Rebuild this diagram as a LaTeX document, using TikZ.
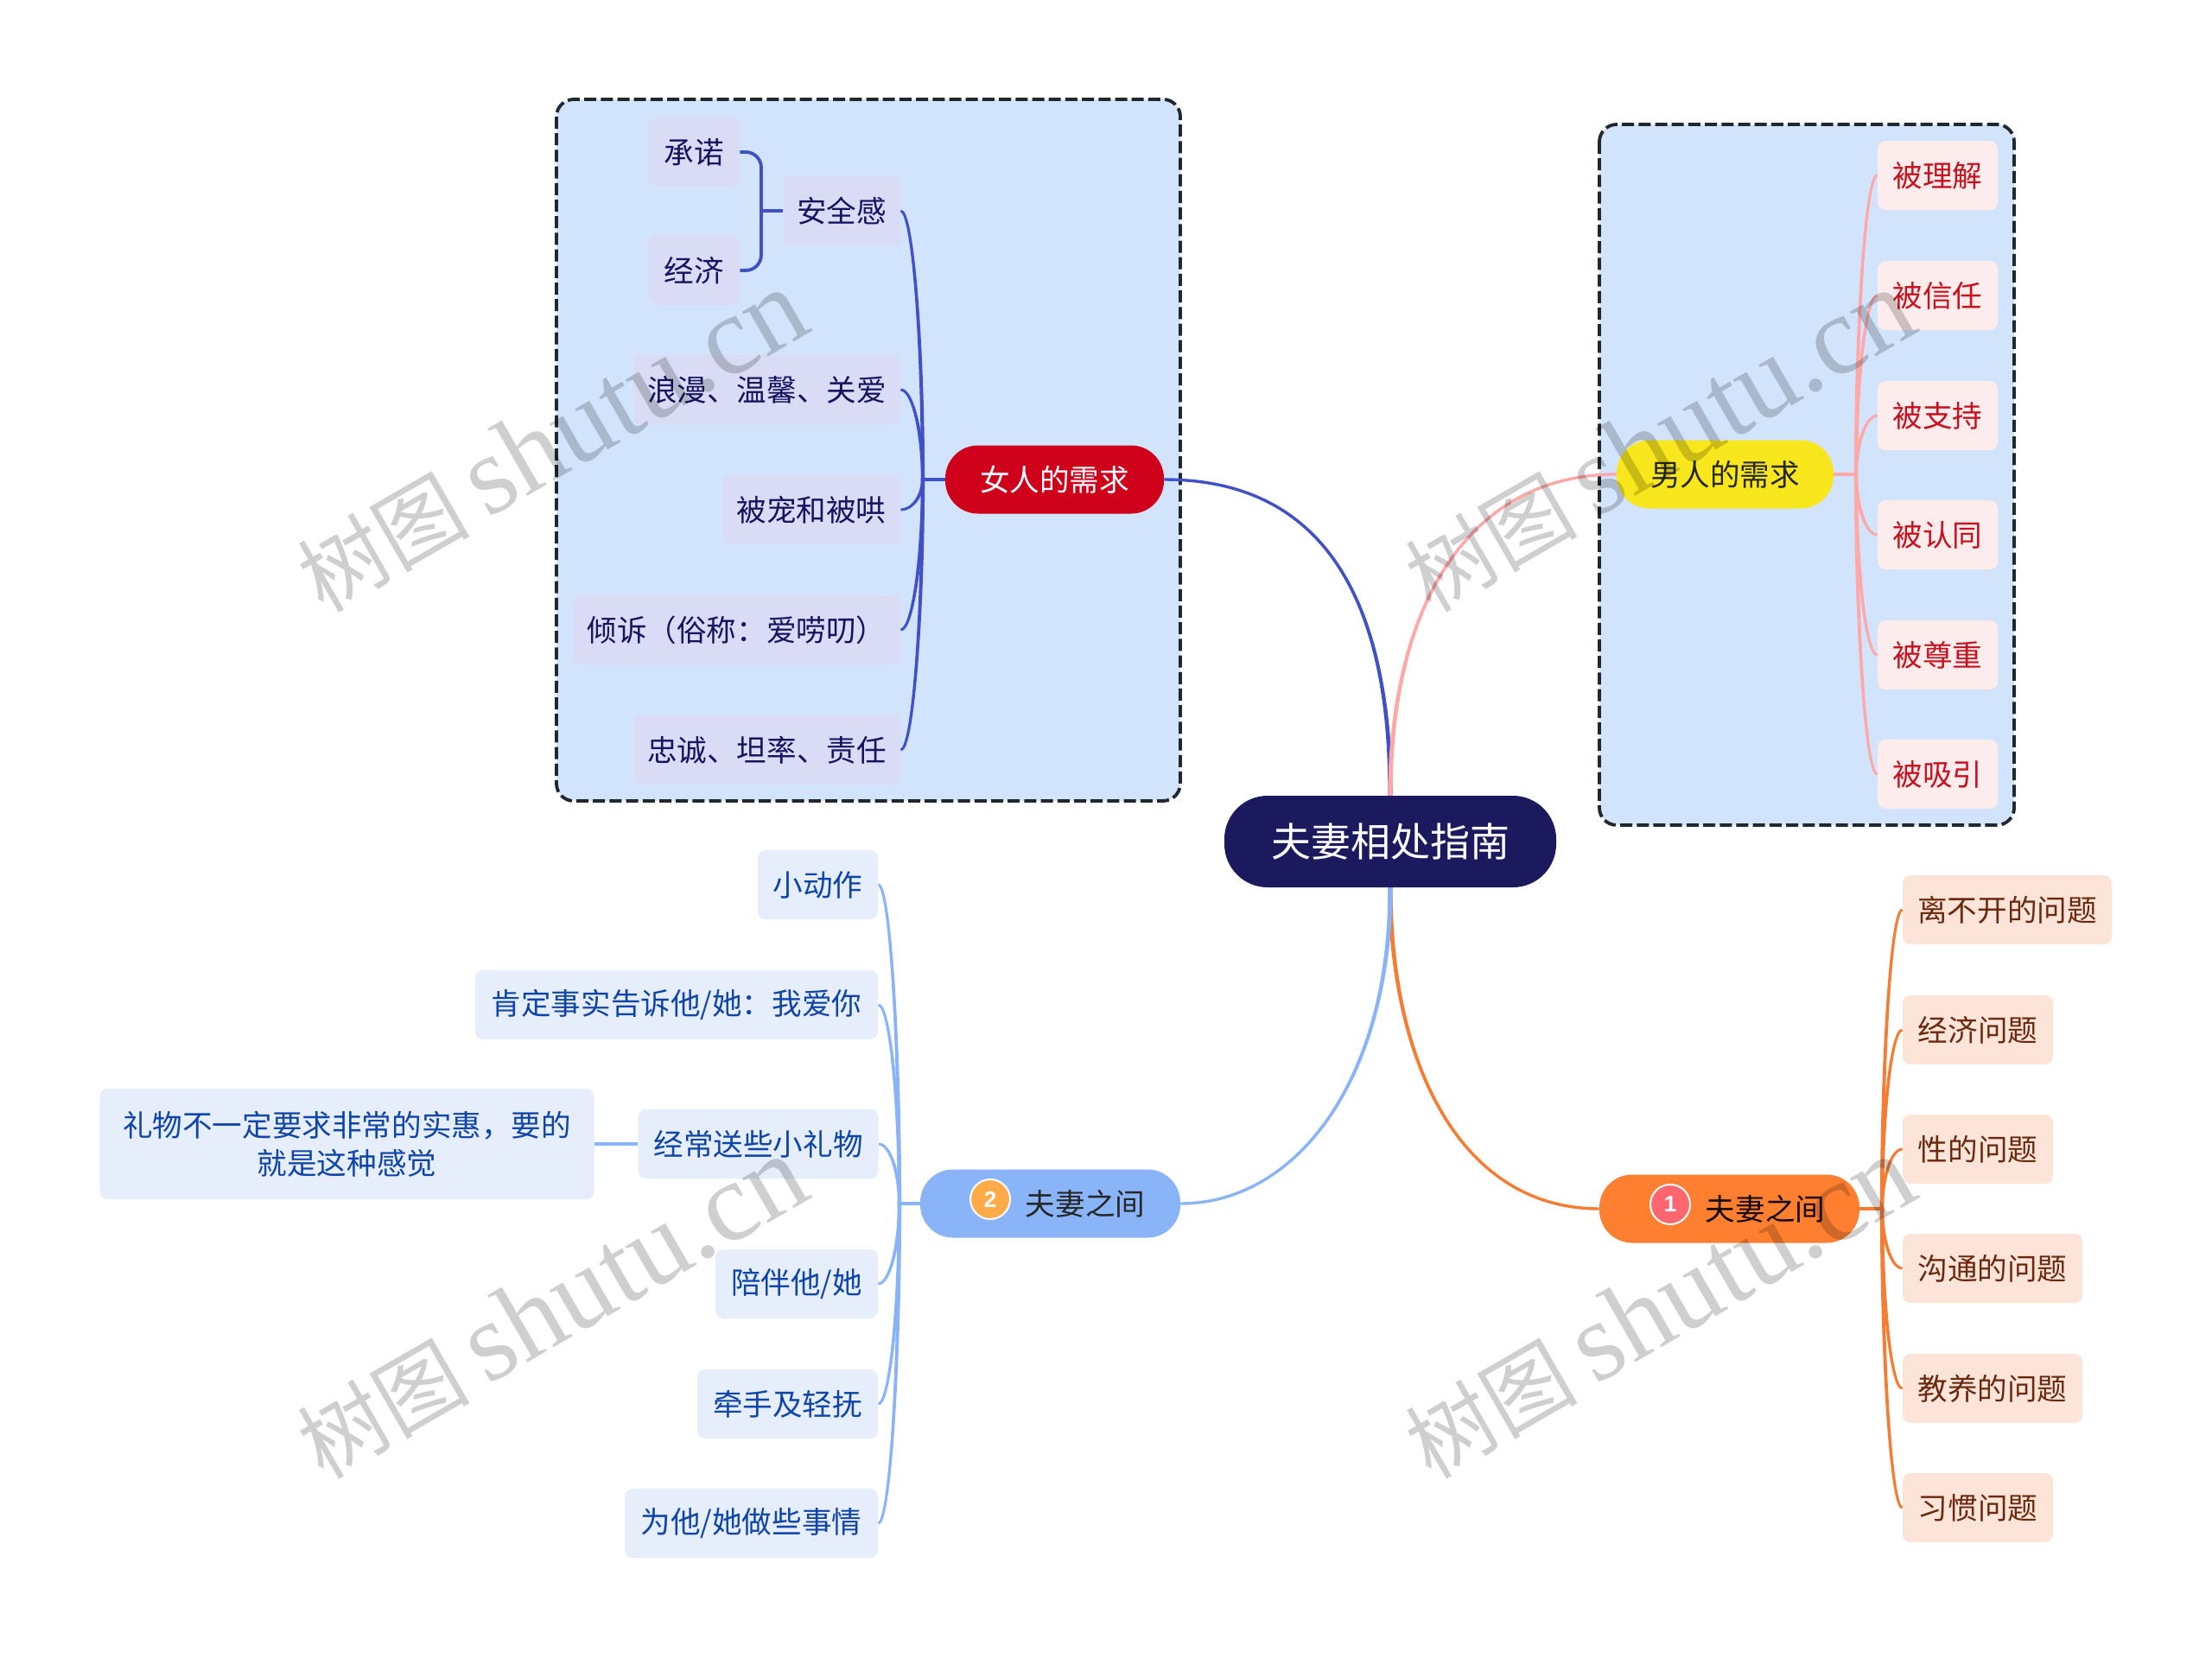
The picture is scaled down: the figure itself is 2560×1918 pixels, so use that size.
\documentclass[tikz,border=0pt]{standalone}
\usepackage{fontspec}
\setmainfont{Noto Sans CJK SC}
\setsansfont{Liberation Sans}
\newfontfamily\wmlatin{Liberation Serif}
\usetikzlibrary{calc}
\pgfdeclarelayer{boxes}\pgfdeclarelayer{edges}\pgfdeclarelayer{marks}
\pgfsetlayers{boxes,edges,main,marks}
\definecolor{boxfill}{HTML}{D2E3FC}
\definecolor{boxline}{HTML}{22272E}
\definecolor{rootc}{HTML}{1B1A5E}
\definecolor{wline}{HTML}{3F51C4}\definecolor{wfill}{HTML}{DADCF5}\definecolor{wtext}{HTML}{14145F}
\definecolor{mline}{HTML}{FFA8A8}\definecolor{mfill}{HTML}{FDECEC}\definecolor{mtext}{HTML}{C8101E}
\definecolor{oline}{HTML}{F57C33}\definecolor{ofill}{HTML}{FCE5D8}\definecolor{otext}{HTML}{6B2A0F}
\definecolor{bline}{HTML}{8AB4F8}\definecolor{bfill}{HTML}{E6EEFC}\definecolor{btext}{HTML}{0F44A8}
\newcommand{\twig}[3]{\path[fill=#1,draw=#1,line width=1.5pt]
  (#3) .. controls ($(#3)!.55!(#2|-#3)$) and ($(#2)!.5!(#2|-#3)+(.6,0)$) .. ($(#2)+(.6,0)$)
  -- ($(#2)+(-.6,0)$) .. controls ($(#2)!.5!(#2|-#3)+(-.6,0)$) and ($(#3)!.55!(#2|-#3)$) .. (#3) -- cycle;}
\newcommand{\limb}[5]{\path[fill=#1,draw=#1,line width=1.7pt]
  (#5) .. controls (#4) and (#3) .. ($(#2)+(1,0)$)
  -- ($(#2)+(-1,0)$) .. controls (#3) and (#4) .. (#5) -- cycle;}
\newcommand{\wmtext}{{\fontsize{50}{50}\selectfont 树图}\hspace{10pt}{\wmlatin shutu.cn}}
\tikzset{
  txt/.style={font=\fontsize{17.3}{22}\selectfont,align=center,inner sep=0pt},
  sub/.style={txt,rounded corners=4.5pt,minimum height=40pt},
  pill/.style={txt,rounded corners=19pt,minimum height=39.5pt},
  wsub/.style={sub,fill=wfill,text=wtext},
  msub/.style={sub,fill=mfill,text=mtext},
  osub/.style={sub,fill=ofill,text=otext},
  bsub/.style={sub,fill=bfill,text=btext},
  hubline/.style={line width=1.9pt},
  wmark/.style={font=\fontsize{65}{65}\selectfont,text=black,opacity=.19,rotate=30,inner sep=0pt},
  badge/.style={circle,draw=white,line width=1pt,minimum size=23pt,inner sep=0pt,text=white,font=\fontsize{13}{13}\selectfont\bfseries\sffamily}
}
\begin{document}
\begin{tikzpicture}[x=0.5pt,y=-0.5pt]
\useasboundingbox (0,0) rectangle (2560,1918);
\begin{pgfonlayer}{boxes}
\fill[white] (0,0) rectangle (2560,1918);
\path[fill=boxfill,draw=boxline,line width=1.9pt,dash pattern=on 7pt off 2.6pt,rounded corners=10pt] (644,115) rectangle (1366,927);
\path[fill=boxfill,draw=boxline,line width=1.9pt,dash pattern=on 7pt off 2.6pt,rounded corners=10pt] (1851,144) rectangle (2331,955);
\end{pgfonlayer}
% root
\node[txt,fill=rootc,text=white,rounded corners=25pt,minimum width=192pt,minimum height=53pt,font=\fontsize{23}{26}\selectfont] (root) at (1609,974) {夫妻相处指南};
% main nodes
\node[pill,fill={rgb,255:red,208;green,2;blue,27},text=white,minimum width=126.5pt] (women) at (1220.5,555) {女人的需求};
\node[pill,fill={rgb,255:red,248;green,231;blue,28},text=black!85,minimum width=125.5pt] (men) at (1996.5,549) {男人的需求};
\node[pill,fill={rgb,255:red,255;green,127;blue,48},minimum width=150.5pt] (rel1) at (2001.5,1399) {};
\node[txt,text=black!80!otext] (rel1t) at (2043,1399) {夫妻之间};
\node[badge,fill={rgb,255:red,255;green,102;blue,112}] (b1) at (1933,1394) {1};
\node[pill,fill=bline,minimum width=150.5pt] (rel2) at (1215.5,1393) {};
\node[txt,text=black!85] (rel2t) at (1256,1393) {夫妻之间};
\node[badge,fill={rgb,255:red,255;green,171;blue,74}] (b2) at (1146,1388) {2};
% women
\node[wsub,minimum width=68pt] (w1) at (974,244) {安全感};
\node[wsub,minimum width=52.5pt] (w11) at (803.5,176) {承诺};
\node[wsub,minimum width=52.5pt] (w12) at (803.5,313) {经济};
\node[wsub,minimum width=154.5pt] (w2) at (887.5,451) {浪漫、温馨、关爱};
\node[wsub,minimum width=103pt] (w3) at (939,590) {被宠和被哄};
\node[wsub,minimum width=189.5pt] (w4) at (852.5,729) {倾诉（俗称：爱唠叨）};
\node[wsub,minimum width=154.5pt] (w5) at (887.5,868) {忠诚、坦率、责任};
% men
\node[msub,minimum width=69.5pt] (m1) at (2242.5,203) {被理解};
\node[msub,minimum width=69.5pt] (m2) at (2242.5,342) {被信任};
\node[msub,minimum width=69.5pt] (m3) at (2242.5,481) {被支持};
\node[msub,minimum width=69.5pt] (m4) at (2242.5,619) {被认同};
\node[msub,minimum width=69.5pt] (m5) at (2242.5,758) {被尊重};
\node[msub,minimum width=69.5pt] (m6) at (2242.5,896) {被吸引};
% orange
\node[osub,minimum width=121pt] (o1) at (2323,1053) {离不开的问题};
\node[osub,minimum width=87pt] (o2) at (2289,1192) {经济问题};
\node[osub,minimum width=87pt] (o3) at (2289,1330) {性的问题};
\node[osub,minimum width=104pt] (o4) at (2306,1468) {沟通的问题};
\node[osub,minimum width=104pt] (o5) at (2306,1607) {教养的问题};
\node[osub,minimum width=87pt] (o6) at (2289,1745) {习惯问题};
% blue
\node[bsub,minimum width=69.5pt] (l1) at (946.5,1024) {小动作};
\node[bsub,minimum width=233pt] (l2) at (783,1163) {肯定事实告诉他/她：我爱你};
\node[bsub,minimum width=139pt] (l3) at (877.5,1324) {经常送些小礼物};
\node[bsub,minimum width=286pt,minimum height=64pt] (l31) at (401.5,1324) {礼物不一定要求非常的实惠，要的\\就是这种感觉};
\node[bsub,minimum width=94pt] (l4) at (922,1486) {陪伴他/她};
\node[bsub,minimum width=104.5pt] (l5) at (911.5,1625) {牵手及轻抚};
\node[bsub,minimum width=146.5pt] (l6) at (869.5,1763) {为他/她做些事情};
\coordinate (wh) at (1068,555);
\coordinate (wsh) at (881,244);
\coordinate (mh) at (2148,549);
\coordinate (oh) at (2178,1399);
\coordinate (lh) at (1041,1393);
\begin{pgfonlayer}{edges}
\limb{wline}{root.north}{1609,740}{1560,555}{women.east}
\limb{mline}{root.north}{1609,700}{1700,549}{men.west}
\limb{oline}{root.south}{1609,1230}{1690,1399}{rel1.west}
\limb{bline}{root.south}{1609,1250}{1500,1393}{rel2.east}
\draw[wline,hubline] (women.west) -- (wh);
\draw[mline,hubline] (men.east) -- (mh);
\draw[oline,hubline] (rel1.east) -- (oh);
\draw[bline,hubline] (rel2.west) -- (lh);
\foreach \c in {w1,w2,w3,w4,w5} {\twig{wline}{wh}{\c.east}}
\foreach \c in {m1,m2,m3,m4,m5,m6} {\twig{mline}{mh}{\c.west}}
\foreach \c in {o1,o2,o3,o4,o5,o6} {\twig{oline}{oh}{\c.west}}
\foreach \c in {l1,l2,l3,l4,l5,l6} {\twig{bline}{lh}{\c.east}}
\draw[wline,hubline] (w1.west) -- (wsh);
\draw[wline,hubline,rounded corners=9pt] (w11.east) -- (wsh|-w11.east) -- (wsh|-w12.east) -- (w12.east);
\draw[bline,line width=2pt] (l3.west) -- (l31.east);
\end{pgfonlayer}
\begin{pgfonlayer}{marks}
\node[wmark] (wm1) at (638,511) {\wmtext};
\node[wmark] (wm2) at (1920,511) {\wmtext};
\node[wmark] (wm3) at (638,1514) {\wmtext};
\node[wmark] (wm4) at (1920,1514) {\wmtext};
\end{pgfonlayer}
\end{tikzpicture}
\end{document}
